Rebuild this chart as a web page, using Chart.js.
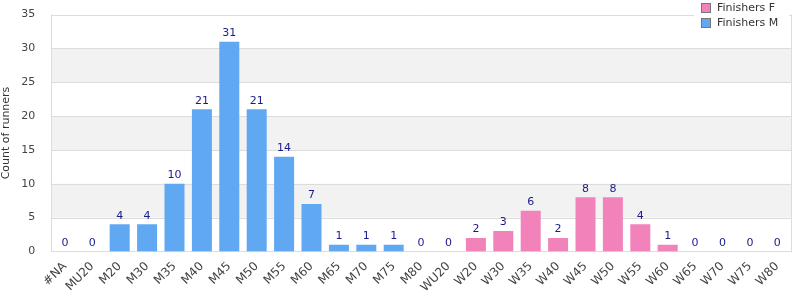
<!DOCTYPE html>
<html>
<head>
<meta charset="utf-8">
<script src="https://cdn.jsdelivr.net/npm/chart.js@4/dist/chart.umd.min.js"></script>
<style>
  html, body { margin: 0; padding: 0; background: #fff; }
  #wrap { width: 800px; height: 300px; }
</style>
</head>
<body>
<div id="wrap"><canvas id="runners-chart"></canvas></div>
<script>
const categories = ["#NA","MU20","M20","M30","M35","M40","M45","M50","M55","M60","M65","M70","M75","M80",
  "WU20","W20","W30","W35","W40","W45","W50","W55","W60","W65","W70","W75","W80"];
const finishersM = [0,0,4,4,10,21,31,21,14,7,1,1,1,0,0,null,null,null,null,null,null,null,null,null,null,null,null];
const finishersF = [null,null,null,null,null,null,null,null,null,null,null,null,null,null,null,2,3,6,2,8,8,4,1,0,0,0,0];
const yTicks = [0,5,10,15,20,25,30,35];

const colorM = "#60a8f2";
const colorF = "#f282ba";
const labelColor = "#1a1a8a";

//alternate grey bands behind the bars
const bandPlugin = {
  id: "bands",
  beforeDatasetsDraw(chart){
    const {ctx, chartArea, scales} = chart;
    ctx.save();
    ctx.fillStyle = "#f2f2f2";
    for(let i = 1; i < yTicks.length - 1; i += 2){
      const yTop = scales.y.getPixelForValue(yTicks[i+1]);
      const yBot = scales.y.getPixelForValue(yTicks[i]);
      ctx.fillRect(chartArea.left, yTop, chartArea.right - chartArea.left, yBot - yTop);
    }
    // grid lines and side borders
    ctx.strokeStyle = "#dcdcdc";
    ctx.lineWidth = 1;
    yTicks.forEach(v => {
      const y = Math.round(scales.y.getPixelForValue(v)) + 0.5;
      ctx.beginPath();
      ctx.moveTo(chartArea.left, y);
      ctx.lineTo(chartArea.right, y);
      ctx.stroke();
    });
    ctx.beginPath();
    ctx.moveTo(Math.round(chartArea.left) + 0.5, chartArea.top);
    ctx.lineTo(Math.round(chartArea.left) + 0.5, chartArea.bottom);
    ctx.moveTo(Math.round(chartArea.right) + 0.5, chartArea.top);
    ctx.lineTo(Math.round(chartArea.right) + 0.5, chartArea.bottom);
    ctx.stroke();
    ctx.restore();
  }
};

//value labels on top of each bar
const valuePlugin = {
  id: "values",
  afterDatasetsDraw(chart){
    const {ctx, scales} = chart;
    ctx.save();
    ctx.font = "11px 'DejaVu Sans'";
    ctx.fillStyle = labelColor;
    ctx.textAlign = "center";
    ctx.textBaseline = "bottom";
    categories.forEach((c, i) => {
      const v = finishersM[i] !== null ? finishersM[i] : finishersF[i];
      const x = scales.x.getPixelForValue(i);
      const y = scales.y.getPixelForValue(v);
      ctx.fillText(String(v), x, y - 3);
    });
    ctx.restore();
  }
};

//legend box in the top right corner
const legendPlugin = {
  id: "cornerLegend",
  afterDraw(chart){
    const {ctx} = chart;
    const items = [["Finishers F", colorF], ["Finishers M", colorM]];
    ctx.save();
    ctx.fillStyle = "#fff";
    ctx.fillRect(694, 0, 95, 32);
    ctx.font = "11px 'DejaVu Sans'";
    ctx.textBaseline = "middle";
    items.forEach((it, k) => {
      const y = 4 + k * 15;
      ctx.fillStyle = it[1];
      ctx.fillRect(702, y, 8, 8);
      ctx.strokeStyle = "#777";
      ctx.lineWidth = 1;
      ctx.strokeRect(701.5, y - 0.5, 9, 9);
      ctx.fillStyle = "#333";
      ctx.fillText(it[0], 717, y + 4);
    });
    ctx.restore();
  }
};

new Chart(document.getElementById("runners-chart"), {
  type: "bar",
  data: {
    labels: categories,
    datasets: [
      {label: "Finishers F", data: finishersF, backgroundColor: colorF, barPercentage: 0.73, categoryPercentage: 1},
      {label: "Finishers M", data: finishersM, backgroundColor: colorM, barPercentage: 0.73, categoryPercentage: 1}
    ]
  },
  options: {
    responsive: true,
    maintainAspectRatio: false,
    animation: false,
    layout: {padding: {top: 0, right: 9, left: 0, bottom: 5}},
    plugins: {
      legend: {display: false},
      tooltip: {enabled: false}
    },
    scales: {
      x: {
        stacked: true,
        grid: {display: false},
        border: {color: "#cccccc"},
        ticks: {
          color: "#444",
          font: {family: "DejaVu Sans", size: 12},
          minRotation: 45,
          maxRotation: 45,
          autoSkip: false,
          padding: 0
        }
      },
      y: {
        stacked: true,
        min: 0,
        max: 35,
        grid: {display: false},
        border: {display: false},
        ticks: {
          stepSize: 5,
          color: "#444",
          font: {family: "DejaVu Sans", size: 11},
          padding: 8
        },
        title: {
          display: true,
          text: "Count of runners",
          color: "#333",
          font: {family: "DejaVu Sans", size: 11},
          padding: {top: 0, bottom: 0}
        }
      }
    }
  },
  plugins: [bandPlugin, valuePlugin, legendPlugin]
});
</script>
</body>
</html>
